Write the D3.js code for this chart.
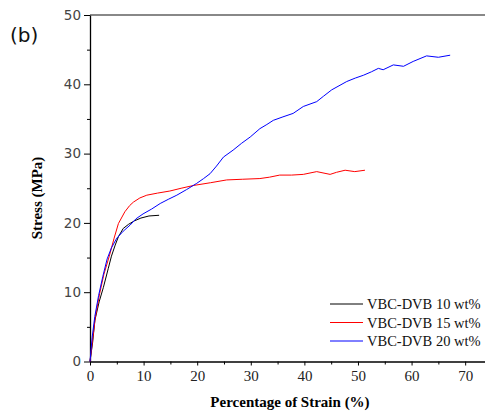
<!DOCTYPE html>
<html>
<head>
<meta charset="utf-8">
<script src="https://cdn.jsdelivr.net/npm/d3@7"></script>
<style>
    body { margin: 0; background: #fff; }
    svg { display: block; }
</style>
</head>
<body>
<svg id="chart" width="485" height="414"></svg>
<script>
// series, [strain %, stress MPa]
const seriesNames = ["VBC-DVB 10 wt%", "VBC-DVB 15 wt%", "VBC-DVB 20 wt%"]
const seriesColors = ["#000000", "#ff0000", "#0000ff"]

const vbc10 = [[0, 0], [0.5, 2.8], [0.9, 5.9], [1.7, 8.6], [2.5, 10.7], [3.4, 13.4], [4.0, 15.2],
    [4.7, 16.8], [5.3, 18.0], [6.2, 19.2], [7.2, 19.8], [8.3, 20.3], [9.5, 20.7], [11.0, 21.0], [12.9, 21.1]]

const vbc15 = [[0, 0], [0.5, 3.2], [1.0, 6.4], [1.8, 9.8], [2.6, 12.6], [3.6, 15.2], [4.5, 17.8],
    [5.3, 19.9], [6.5, 21.6], [7.4, 22.5], [8.1, 23.0], [9.3, 23.6], [10.6, 24.0], [12.6, 24.3],
    [14.9, 24.6], [17.0, 25.0], [19.3, 25.4], [22.5, 25.8], [25.5, 26.2], [28.5, 26.3], [31.7, 26.4],
    [33.5, 26.6], [35.4, 26.9], [37.6, 26.9], [39.8, 27.0], [42.3, 27.4], [44.8, 27.0], [46.0, 27.3],
    [47.6, 27.6], [49.4, 27.4], [51.3, 27.6]]

const vbc20 = [[0, 0], [0.4, 3.5], [0.9, 6.5], [1.6, 9.5], [2.4, 12.3], [3.2, 14.8], [4.0, 16.4],
    [5.0, 17.8], [6.2, 18.8], [7.5, 19.7], [8.6, 20.6], [9.9, 21.3], [11.5, 22.0], [13.1, 22.8],
    [14.6, 23.4], [16.2, 24.0], [18.0, 24.8], [19.9, 25.7], [21.2, 26.4], [22.4, 27.1], [23.6, 28.2],
    [24.9, 29.5], [26.7, 30.5], [28.3, 31.5], [29.9, 32.4], [31.7, 33.6], [33.0, 34.2], [34.2, 34.8],
    [36.0, 35.3], [37.9, 35.8], [39.8, 36.8], [42.3, 37.5], [43.6, 38.3], [45.1, 39.2], [47.9, 40.4],
    [49.5, 40.9], [51.0, 41.3], [52.5, 41.8], [53.8, 42.3], [54.7, 42.1], [56.6, 42.8], [58.5, 42.6],
    [60.3, 43.3], [62.8, 44.1], [65.0, 43.9], [67.2, 44.2]]

const allSeries = [vbc10, vbc15, vbc20]

const xTicks = [0, 10, 20, 30, 40, 50, 60, 70]
const yTicks = [0, 10, 20, 30, 40, 50]

function setup_Chart() {
    const svg = d3.select("#chart")
    const left = 90, right = 485, top = 15, bottom = 361.5

    const x = d3.scaleLinear().domain([0, 73.7]).range([left, right])
    const y = d3.scaleLinear().domain([0, 50]).range([bottom, top])

    // top frame line
    svg.append("line")
        .attr("x1", left).attr("x2", right)
        .attr("y1", top).attr("y2", top)
        .attr("stroke", "#888").attr("stroke-width", 2)

    // minor ticks first, then the main axes on top
    const xMinor = d3.axisBottom(x).tickValues(d3.range(5, 75, 10)).tickSize(3).tickFormat("")
    svg.append("g").attr("transform", "translate(0," + bottom + ")").call(xMinor)
        .call(g => g.select(".domain").remove())

    const yMinor = d3.axisLeft(y).tickValues(d3.range(5, 50, 10)).tickSize(3).tickFormat("")
    svg.append("g").attr("transform", "translate(" + left + ",0)").call(yMinor)
        .call(g => g.select(".domain").remove())

    const xAxis = d3.axisBottom(x).tickValues(xTicks).tickSize(4).tickSizeOuter(0).tickPadding(5)
    const gx = svg.append("g").attr("transform", "translate(0," + bottom + ")").call(xAxis)
    gx.selectAll("text")
        .attr("font-family", "'Liberation Serif', 'Times New Roman', serif")
        .attr("font-size", 15).attr("fill", "#222")

    const yAxis = d3.axisLeft(y).tickValues(yTicks).tickSize(6).tickSizeOuter(0).tickPadding(3)
    const gy = svg.append("g").attr("transform", "translate(" + left + ",0)").call(yAxis)
    gy.selectAll("text")
        .attr("font-family", "'DejaVu Sans', Verdana, sans-serif")
        .attr("font-size", 13.5).attr("fill", "#444")

    svg.selectAll(".domain").attr("stroke-width", 1.3)

    // curves
    const line = d3.line()
        .x(d => x(d[0]))
        .y(d => y(d[1]))

    svg.selectAll(".curve")
        .data(allSeries)
        .enter()
        .append("path")
        .attr("class", "curve")
        .attr("d", line)
        .attr("fill", "none")
        .attr("stroke", (d, i) => seriesColors[i])
        .attr("stroke-width", 1)

    // legend
    const legend = svg.append("g").attr("transform", "translate(330,304)")
    seriesNames.forEach((name, i) => {
        const row = legend.append("g").attr("transform", "translate(0," + (i * 18.5) + ")")
        row.append("line")
            .attr("x1", 0).attr("x2", 33)
            .attr("stroke", seriesColors[i]).attr("stroke-width", 1)
        row.append("text")
            .attr("x", 37).attr("y", 5)
            .attr("font-family", "'Liberation Serif', 'Times New Roman', serif")
            .attr("font-size", 14.5).attr("fill", "#111")
            .text(name)
    })

    // axis titles
    svg.append("text")
        .attr("x", 290).attr("y", 407)
        .attr("text-anchor", "middle")
        .attr("font-family", "'Liberation Serif', 'Times New Roman', serif")
        .attr("font-weight", "bold").attr("font-size", 15)
        .text("Percentage of Strain (%)")

    svg.append("text")
        .attr("transform", "translate(42,198) rotate(-90)")
        .attr("text-anchor", "middle")
        .attr("font-family", "'Liberation Serif', 'Times New Roman', serif")
        .attr("font-weight", "bold").attr("font-size", 15)
        .text("Stress (MPa)")

    svg.append("text")
        .attr("x", 10).attr("y", 42)
        .attr("font-family", "'DejaVu Sans', 'Open Sans', sans-serif")
        .attr("font-size", 20).attr("fill", "#111")
        .text("(b)")
}

setup_Chart()
</script>
</body>
</html>
